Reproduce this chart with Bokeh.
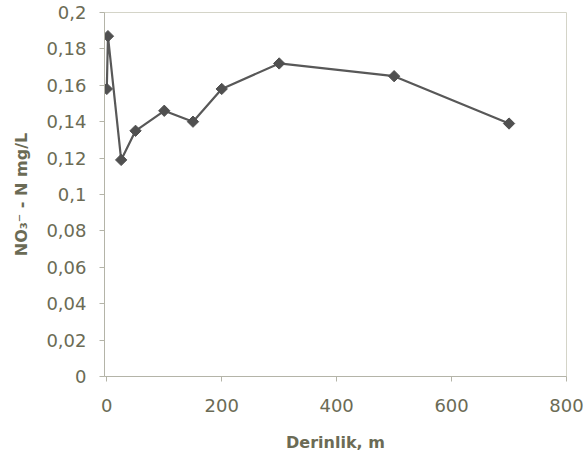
import math
from bokeh.plotting import figure
from bokeh.models import Range1d, FixedTicker, CustomJSTickFormatter
from bokeh.embed import file_html
from bokeh.resources import INLINE

depth = [0, 2, 25, 50, 100, 150, 200, 300, 500, 700]
no3 = [0.158, 0.187, 0.119, 0.135, 0.146, 0.140, 0.158, 0.172, 0.165, 0.139]
x_ticks = [0, 200, 400, 600, 800]
y_ticks = [0, 0.02, 0.04, 0.06, 0.08, 0.1, 0.12, 0.14, 0.16, 0.18, 0.2]
x_title = "Derinlik, m"
y_title = "NO\u2083\u207b - N mg/L"

text_col = "#6b6b55"
axis_col = "#b4b4a8"

p = figure(width=586, height=462, output_backend="svg", toolbar_location=None,
           x_range=Range1d(-4, 800), y_range=Range1d(0, 0.2),
           min_border_left=104, min_border_right=20, min_border_top=12, min_border_bottom=86)
p.background_fill_color = "white"
p.border_fill_color = "white"
p.outline_line_color = "#d4d4c8"
p.xgrid.visible = False
p.ygrid.visible = False

p.line(depth, no3, line_color="#585858", line_width=2.2)
p.scatter(depth, no3, marker="square", angle=math.pi / 4, size=8,
          fill_color="#505050", line_color="#505050")

for ax in (p.xaxis[0], p.yaxis[0]):
    ax.axis_line_color = axis_col
    ax.major_tick_line_color = axis_col
    ax.minor_tick_line_color = None
    ax.major_tick_in = 0
    ax.major_tick_out = 5
    ax.major_label_text_font = "DejaVu Sans"
    ax.major_label_text_font_size = "18px"
    ax.major_label_text_color = text_col
    ax.axis_label_text_font = "DejaVu Sans"
    ax.axis_label_text_font_style = "bold"
    ax.axis_label_text_font_size = "16px"
    ax.axis_label_text_color = text_col

p.xaxis.ticker = FixedTicker(ticks=x_ticks)
p.yaxis.ticker = FixedTicker(ticks=y_ticks)
p.yaxis.formatter = CustomJSTickFormatter(code="return String(Math.round(tick*100)/100).replace('.', ',');")
p.xaxis.axis_label = x_title
p.yaxis.axis_label = y_title
p.xaxis.major_label_standoff = 17
p.yaxis.major_label_standoff = 13
p.xaxis.axis_label_standoff = 18
p.yaxis.axis_label_standoff = 12

open("out.html", "w").write(file_html(p, INLINE))
